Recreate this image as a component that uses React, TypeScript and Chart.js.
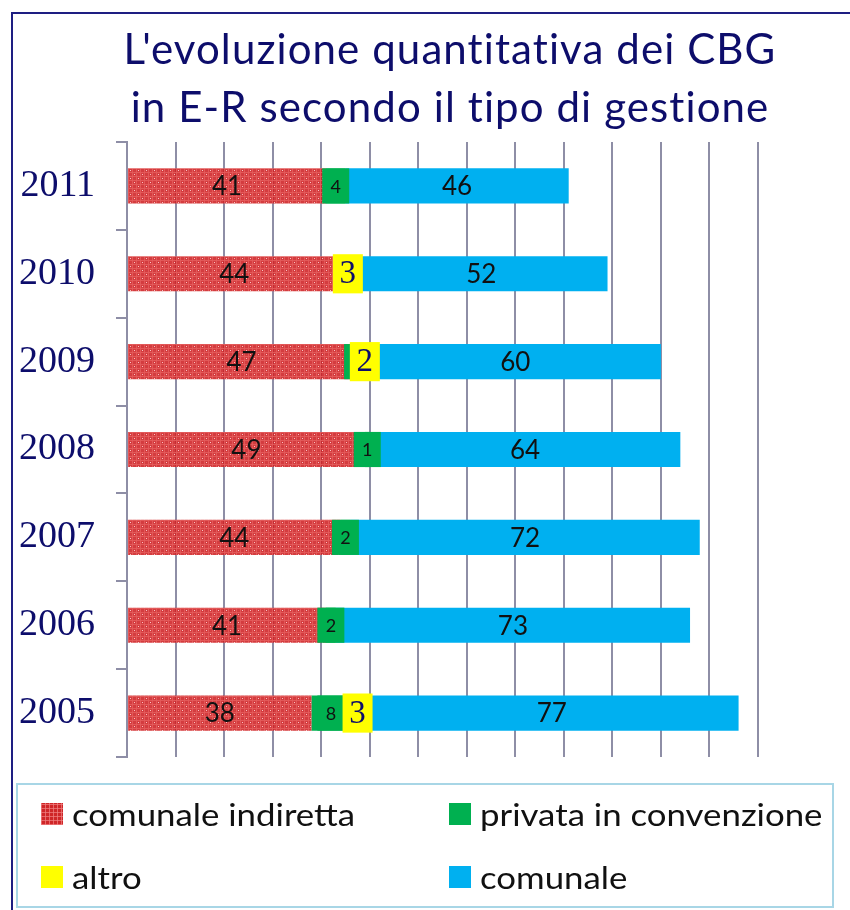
import React, { useEffect, useRef } from 'react';
import { Chart, registerables } from 'chart.js';
Chart.register(...registerables);

const years = ['2011', '2010', '2009', '2008', '2007', '2006', '2005'];
const comunaleIndiretta = [41, 44, 47, 49, 44, 41, 38];
const privataConvenzione = [4, 0, 1, 1, 2, 2, 8];
const altro = [0, 3, 2, 0, 0, 0, 3];
const comunale = [46, 52, 60, 64, 72, 73, 77];
const seriesNames = ['comunale indiretta', 'privata in convenzione', 'altro', 'comunale'];
const titleLines = ["L'evoluzione quantitativa dei CBG", 'in E-R secondo il tipo di gestione'];
const xMax = 130;
const xStep = 10;

const RED = '#d43a3a';
const GREEN = '#00b050';
const YELLOW = '#ffff00';
const BLUE = '#00b0f0';
const NAVY = '#0d0d6b';
const GRID = '#8e8ea6';

function makeRedPattern(): CanvasPattern | string {
  const c = document.createElement('canvas');
  c.width = 8;
  c.height = 8;
  const g = c.getContext('2d');
  if (!g) return RED;
  g.fillStyle = 'rgba(205,28,32,0.86)';
  g.fillRect(0, 0, 8, 8);
  g.fillStyle = 'rgba(228,92,92,0.88)';
  g.fillRect(0, 0, 8, 1);
  g.fillRect(0, 4, 8, 1);
  g.fillRect(0, 0, 1, 8);
  g.fillRect(4, 0, 1, 8);
  g.fillStyle = 'rgba(250,200,200,0.95)';
  g.fillRect(2, 2, 1, 1);
  g.fillRect(6, 6, 1, 1);
  const p = g.createPattern(c, 'repeat');
  return p || RED;
}

const titlePlugin = {
  id: 'customTitle',
  afterDraw(chart: any) {
    const ctx = chart.ctx;
    ctx.save();
    ctx.font = '42px Lato';
    ctx.fillStyle = NAVY;
    ctx.textAlign = 'center';
    ctx.textBaseline = 'middle';
    try { (ctx as any).letterSpacing = '1.1px'; } catch (e) { /* ignore */ }
    const cx = 450;
    titleLines.forEach((t, i) => {
      ctx.fillText(t, cx, 50 + i * 58);
    });
    ctx.restore();
  },
};

const labelPlugin = {
  id: 'segLabels',
  afterDatasetsDraw(chart: any) {
    const ctx = chart.ctx;
    chart.data.datasets.forEach((ds: any, i: number) => {
      const meta = chart.getDatasetMeta(i);
      meta.data.forEach((el: any, j: number) => {
        const v = ds.data[j];
        if (!v) return;
        const cx = (el.x + el.base) / 2;
        const cy = el.y;
        ctx.save();
        if (ds.boxW) {
          const h = el.height + (ds.boxExtra || 0);
          ctx.fillStyle = ds.backgroundColor;
          ctx.fillRect(cx - ds.boxW / 2, cy - h / 2, ds.boxW, h);
        }
        ctx.font = ds.lblFont;
        ctx.fillStyle = ds.lblColor;
        ctx.textAlign = 'center';
        ctx.textBaseline = 'middle';
        ctx.fillText(String(v), cx, cy + 1);
        ctx.restore();
      });
    });
  },
};

export default function App() {
  const ref = useRef<HTMLCanvasElement>(null);
  useEffect(() => {
    if (!ref.current) return;
    const redFill = makeRedPattern();
    const chart = new Chart(ref.current, {
      type: 'bar',
      data: {
        labels: years,
        datasets: [
          { label: seriesNames[0], data: comunaleIndiretta, backgroundColor: redFill as any, lblFont: '26px Lato', lblColor: '#111' } as any,
          { label: seriesNames[1], data: privataConvenzione, backgroundColor: GREEN, boxW: 27, boxExtra: 0, lblFont: '18px Lato', lblColor: '#111' } as any,
          { label: seriesNames[2], data: altro, backgroundColor: YELLOW, boxW: 30, boxExtra: 4, lblFont: '33px "Liberation Serif"', lblColor: NAVY } as any,
          { label: seriesNames[3], data: comunale, backgroundColor: BLUE, lblFont: '26px Lato', lblColor: '#111' } as any,
        ],
      },
      options: {
        indexAxis: 'y',
        animation: false,
        responsive: false,
        layout: { padding: { left: 0, right: 92, top: 142, bottom: 153 } },
        datasets: { bar: { barPercentage: 0.4, categoryPercentage: 1 } },
        scales: {
          x: {
            stacked: true,
            min: 0,
            max: xMax,
            ticks: { display: false, stepSize: xStep },
            grid: { color: GRID, lineWidth: 2, tickLength: 0, drawTicks: false },
            border: { display: false },
            afterFit: (s: any) => { s.height = 0; },
          },
          y: {
            stacked: true,
            ticks: { font: { family: 'Liberation Serif', size: 38 }, color: NAVY, padding: 21 },
            grid: { offset: true, drawOnChartArea: false, tickLength: 11, color: GRID, lineWidth: 2 },
            border: { color: GRID, width: 2 },
            afterFit: (s: any) => { s.width = 127; },
          },
        },
        plugins: {
          legend: { display: false },
          tooltip: { enabled: false },
          title: { display: false },
        },
      } as any,
      plugins: [labelPlugin, titlePlugin],
    });
    return () => chart.destroy();
  }, []);

  const swatchRed: React.CSSProperties = {
    backgroundColor: '#cf2628',
    backgroundImage:
      'repeating-linear-gradient(0deg, rgba(240,130,130,0.7) 0 1px, transparent 1px 4px), repeating-linear-gradient(90deg, rgba(240,130,130,0.7) 0 1px, transparent 1px 4px)',
  };
  const swatches: React.CSSProperties[] = [swatchRed, { background: GREEN }, { background: YELLOW }, { background: BLUE }];
  const pos = [
    { x: 41, y: 803 },
    { x: 449, y: 803 },
    { x: 41, y: 866 },
    { x: 449, y: 866 },
  ];

  return (
    <div style={{ position: 'absolute', left: 0, top: 0, width: 850, height: 910, background: '#fff' }}>
      <canvas ref={ref} width={850} height={910} style={{ position: 'absolute', left: 0, top: 0 }} />
      <div style={{ position: 'absolute', left: 11, top: 12, width: 839, height: 898, borderLeft: '2px solid #1e1e82', borderTop: '2px solid #1e1e82', boxSizing: 'border-box', pointerEvents: 'none' }} />
      <div style={{ position: 'absolute', left: 16, top: 783, width: 818, height: 125, border: '2px solid #a8d6e6', boxSizing: 'border-box' }} />
      {seriesNames.map((n, i) => (
        <div key={n} style={{ position: 'absolute', left: pos[i].x, top: pos[i].y, height: 22, display: 'flex', alignItems: 'center', whiteSpace: 'nowrap' }}>
          <div style={{ width: 22, height: 22, flex: 'none', ...swatches[i] }} />
          <span style={{ marginLeft: 9, fontFamily: 'Lato', fontSize: 30, color: '#111', lineHeight: '22px', display: 'inline-block', transform: 'scaleX(1.16)', transformOrigin: 'left center' }}>{n}</span>
        </div>
      ))}
    </div>
  );
}
